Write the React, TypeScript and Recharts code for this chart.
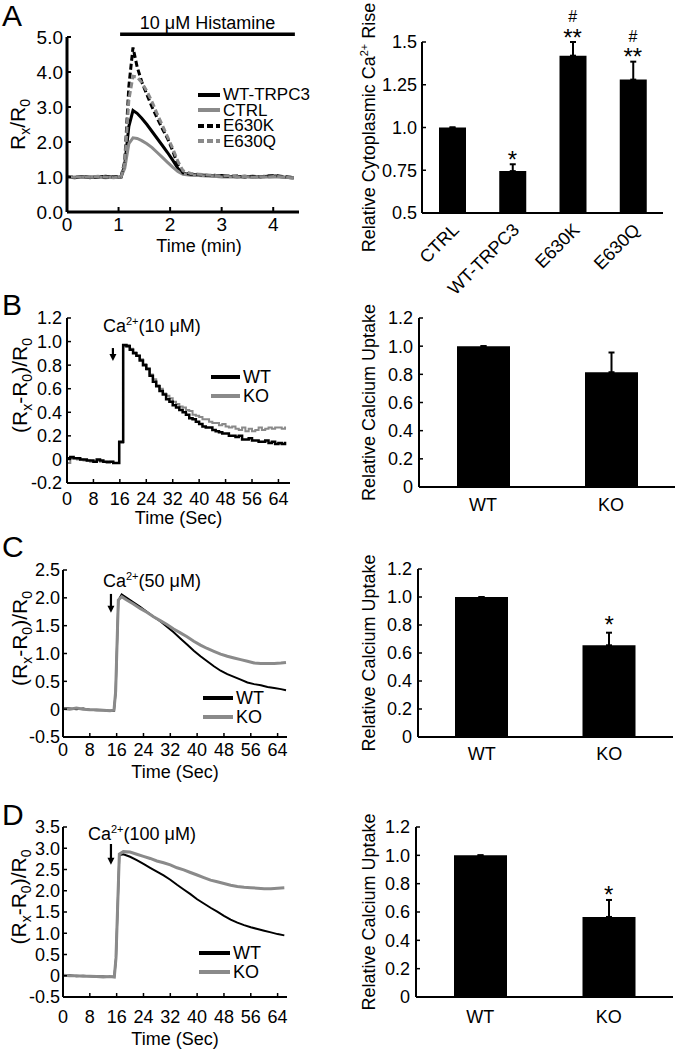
import React from 'react';
import {
  ComposedChart,
  LineChart,
  Line,
  Bar,
  XAxis,
  YAxis,
  ErrorBar,
  ReferenceLine,
  Legend,
  LabelList,
} from 'recharts';

const FONT = '"Liberation Sans", Arial, Helvetica, sans-serif';
const GRAY = '#8a8a8a';

// ---- A (left): histamine response, Rx/R0 vs time (min)
const histTime = [0, 0.15, 0.3, 0.45, 0.6, 0.75, 0.9, 1.05, 1.12, 1.2, 1.28, 1.36, 1.45, 1.55, 1.65, 1.75, 1.85, 1.95, 2.05, 2.15, 2.25, 2.4, 2.55, 2.7, 2.85, 3.0, 3.15, 3.3, 3.45, 3.6, 3.75, 3.9, 4.05, 4.2, 4.35, 4.4];
const histWT = [1.0, 0.98, 1.01, 0.99, 1.0, 1.02, 0.99, 1.0, 1.35, 2.45, 2.9, 2.82, 2.68, 2.5, 2.3, 2.1, 1.9, 1.7, 1.48, 1.25, 1.1, 1.07, 1.06, 1.05, 1.03, 1.04, 1.02, 1.01, 1.02, 1.0, 1.01, 1.02, 1.03, 1.0, 0.98, 0.97];
const histCTRL = [0.99, 1.0, 0.99, 1.01, 1.0, 0.98, 1.0, 1.01, 1.25, 1.95, 2.12, 2.1, 2.04, 1.95, 1.84, 1.7, 1.56, 1.42, 1.28, 1.16, 1.08, 1.05, 1.04, 1.03, 1.02, 1.0, 1.01, 0.99, 1.0, 1.01, 0.99, 1.0, 1.01, 0.99, 0.98, 0.97];
const histE630K = [1.0, 0.99, 1.02, 0.98, 1.01, 0.99, 1.0, 1.01, 1.45, 3.6, 4.7, 4.15, 3.72, 3.35, 3.0, 2.68, 2.38, 2.1, 1.75, 1.35, 1.12, 1.08, 1.07, 1.04, 1.05, 1.03, 1.02, 1.03, 1.0, 1.02, 1.01, 1.03, 1.04, 1.01, 0.99, 0.98];
const histE630Q = [0.98, 1.01, 1.0, 0.99, 1.02, 1.0, 0.98, 1.0, 1.4, 3.2, 3.88, 3.86, 3.7, 3.45, 3.15, 2.8, 2.48, 2.15, 1.82, 1.45, 1.18, 1.1, 1.08, 1.06, 1.04, 1.03, 1.04, 1.01, 1.02, 0.99, 1.01, 1.0, 1.02, 1.0, 0.98, 0.97];
const histStart = 1.03;
const histEnd = 4.42;
const histLevel = 5.08;

// ---- A (right): relative cytoplasmic Ca2+ rise
const riseGroups = ['CTRL', 'WT-TRPC3', 'E630K', 'E630Q'];
const riseMean = [1.0, 0.745, 1.42, 1.28];
const riseErr = [0, 0.04, 0.08, 0.105];
const riseStars = ['', '*', '**', '**'];
const riseHash = ['', '', '#', '#'];
const riseTicks = [0.5, 0.75, 1.0, 1.25, 1.5];
const riseSepTicks = [1, 2, 3];

// ---- B: 10 uM Ca2+
const b10Time = [0, 1, 2, 3, 4, 5, 6, 7, 8, 9, 10, 11, 12, 13, 14, 15, 15.8, 17, 18, 19, 20, 21, 22, 23, 24, 25, 26, 27, 28, 29, 30, 31, 32, 33, 34, 35, 36, 37, 38, 39, 40, 41, 42, 43, 44, 45, 46, 47, 48, 49, 50, 51, 52, 53, 54, 55, 56, 57, 58, 59, 60, 61, 62, 63, 64, 65, 66];
const b10WT = [0.01, 0.02, 0.01, 0.01, 0.0, 0.0, -0.01, -0.01, -0.02, 0.0, -0.01, -0.02, -0.02, -0.02, -0.03, -0.03, 0.15,
  0.97, 0.96, 0.93, 0.9, 0.88, 0.84, 0.8, 0.77, 0.71, 0.66, 0.62, 0.58, 0.55, 0.51, 0.49, 0.46, 0.44, 0.42, 0.4, 0.38,
  0.35, 0.34, 0.32, 0.3, 0.28, 0.27, 0.27, 0.25, 0.24, 0.23, 0.22, 0.22, 0.2, 0.2, 0.19, 0.2, 0.17, 0.17, 0.18, 0.16,
  0.16, 0.15, 0.15, 0.16, 0.14, 0.15, 0.13, 0.14, 0.13, 0.15];
const b10KO = [-0.03, 0.01, 0.01, 0.0, 0.0, -0.01, -0.01, -0.02, -0.02, -0.01, -0.02, -0.02, -0.03, -0.02, -0.03, -0.03, 0.14,
  0.96, 0.97, 0.94, 0.91, 0.88, 0.85, 0.81, 0.76, 0.72, 0.68, 0.63, 0.6, 0.56, 0.54, 0.52, 0.49, 0.47, 0.45, 0.44, 0.42,
  0.41, 0.38, 0.37, 0.36, 0.34, 0.34, 0.32, 0.31, 0.31, 0.29, 0.3, 0.28, 0.27, 0.28, 0.26, 0.25, 0.27, 0.24, 0.26, 0.24,
  0.25, 0.27, 0.25, 0.26, 0.27, 0.26, 0.27, 0.27, 0.26, 0.28];
const b10Mean = [1.0, 0.815];
const b10Err = [0, 0.14];
const b10Stars = ['', ''];

// ---- C: 50 uM Ca2+
const c50Time = [0, 2, 4, 6, 8, 10, 12, 14, 15.2, 15.7, 16.5, 17.5, 19, 21, 23, 25, 27, 29, 31, 33, 35, 37, 39, 41, 43, 45, 47, 49, 51, 53, 55, 57, 59, 61, 63, 65, 66.5];
const c50WT = [0.02, 0.01, 0.0, 0.01, -0.01, -0.02, -0.02, -0.03, -0.03, 0.3, 1.95, 2.06,
  2.0, 1.92, 1.84, 1.75, 1.66, 1.58, 1.48, 1.38, 1.27, 1.16, 1.05, 0.95, 0.86, 0.77, 0.69, 0.63, 0.58, 0.53, 0.48, 0.45,
  0.43, 0.4, 0.38, 0.36, 0.34];
const c50KO = [0.01, 0.0, 0.02, 0.0, -0.01, -0.01, -0.02, -0.03, -0.02, 0.32, 1.96, 2.02,
  1.96, 1.89, 1.81, 1.74, 1.66, 1.59, 1.52, 1.44, 1.37, 1.3, 1.22, 1.15, 1.09, 1.04, 0.99, 0.95, 0.92, 0.89, 0.86, 0.83,
  0.82, 0.82, 0.82, 0.83, 0.84];
const c50Mean = [1.0, 0.655];
const c50Err = [0, 0.09];
const c50Stars = ['', '*'];

// ---- D: 100 uM Ca2+
const d100Time = [0, 2, 4, 6, 8, 10, 12, 14, 15.3, 15.8, 16.8, 18, 20, 22, 24, 26, 28, 30, 32, 34, 36, 38, 40, 42, 44, 46, 48, 50, 52, 54, 56, 58, 60, 62, 64, 66];
const d100WT = [0.0, 0.01, -0.01, 0.0, -0.01, -0.02, -0.02, -0.03, -0.02, 0.4, 2.84, 2.86,
  2.8, 2.72, 2.63, 2.54, 2.45, 2.36, 2.26, 2.14, 2.03, 1.92, 1.8, 1.7, 1.6, 1.51, 1.41, 1.32, 1.25, 1.19, 1.14, 1.1,
  1.06, 1.02, 0.98, 0.95];
const d100KO = [0.01, 0.0, 0.0, -0.01, -0.01, -0.02, -0.03, -0.02, -0.03, 0.42, 2.86, 2.92,
  2.91, 2.86, 2.81, 2.76, 2.7, 2.66, 2.61, 2.54, 2.49, 2.43, 2.37, 2.31, 2.25, 2.21, 2.17, 2.13, 2.1, 2.08, 2.07, 2.06,
  2.05, 2.05, 2.06, 2.07];
const d100Mean = [1.0, 0.565];
const d100Err = [0, 0.12];
const d100Stars = ['', '*'];

const uptakeGroups = ['WT', 'KO'];
const uptakeTicks = [0, 0.2, 0.4, 0.6, 0.8, 1.0, 1.2];
const uptakeSepTicks = [1];
const secTicks = [0, 8, 16, 24, 32, 40, 48, 56, 64];

const histRows = histTime.map((t, i) => ({
  t, wt: histWT[i], ctrl: histCTRL[i], k: histE630K[i], q: histE630Q[i],
}));
const riseRows = riseGroups.map((name, i) => ({
  name, mean: riseMean[i], err: [0, riseErr[i]], top: riseMean[i] + riseErr[i],
  star: riseStars[i], hash: riseHash[i],
}));
const traceRows = (time: number[], wt: number[], ko: number[]) =>
  time.map((t, i) => ({ t, wt: wt[i], ko: ko[i] }));
const uptakeRows = (mean: number[], err: number[], stars: string[]) =>
  uptakeGroups.map((name, i) => ({
    name, mean: mean[i], err: [0, err[i]], top: mean[i] + err[i], star: stars[i],
  }));

const tickStyle = { fontSize: 18, fill: '#000', fontFamily: FONT };
const fmt1 = (v: number) => (v === 0 ? '0' : v.toFixed(1));

const xTitle = (text: string, dy: number, dx = 0) => (props: any) => {
  const vb = props.viewBox;
  return (
    <text x={vb.x + vb.width / 2 + dx} y={vb.y + dy} textAnchor="middle"
      fontSize={18} fontFamily={FONT} fill="#000">{text}</text>
  );
};

const yTitle = (x: number, shift: number, fontSize: number, body: React.ReactNode) => (props: any) => {
  const vb = props.viewBox;
  const y = vb.y + vb.height / 2 + shift;
  return (
    <text x={x} y={y} transform={`rotate(-90, ${x}, ${y})`} textAnchor="middle"
      fontSize={fontSize} fontFamily={FONT} fill="#000">{body}</text>
  );
};

const Sub = ({ c }: { c: string }) => (
  <>
    <tspan dy={5} fontSize={14}>{c}</tspan>
    <tspan dy={-5}>{'\u200b'}</tspan>
  </>
);

const ratioBody = (
  <>
    <tspan>(R</tspan><Sub c="x" /><tspan>-R</tspan><Sub c="0" /><tspan>)/R</tspan><Sub c="0" />
  </>
);

const legendBox = (order: string[], sw: number, rowH: number, thick: number, size: number) => (props: any) => {
  const items = [...(props.payload || [])].sort(
    (a: any, b: any) => order.indexOf(a.value) - order.indexOf(b.value),
  );
  return (
    <div style={{ fontFamily: FONT, fontSize: size, color: '#000' }}>
      {items.map((it: any) => (
        <div key={it.value} style={{ display: 'flex', alignItems: 'center', height: rowH, whiteSpace: 'nowrap' }}>
          <svg width={sw} height={8} style={{ marginRight: 3, display: 'block' }}>
            <line x1={0} y1={4} x2={sw} y2={4} stroke={it.color} strokeWidth={thick}
              strokeDasharray={it.payload?.strokeDasharray} />
          </svg>
          <span style={{ lineHeight: `${rowH}px` }}>{it.value}</span>
        </div>
      ))}
    </div>
  );
};

const arrowShape = (p: any) => {
  const { x1, y1, x2, y2 } = p;
  const head = 7;
  return (
    <g>
      <line x1={x1} y1={y1} x2={x2} y2={y2 - head + 1} stroke="#000" strokeWidth={2.2} />
      <polygon points={`${x2 - 3.5},${y2 - head} ${x2 + 3.5},${y2 - head} ${x2},${y2}`} fill="#000" />
    </g>
  );
};

const doseLabel = (dose: string, dx: number, dy: number) => (props: any) => {
  const vb = props.viewBox;
  return (
    <text x={vb.x + dx} y={vb.y + dy} fontSize={18} fontFamily={FONT} fill="#000">
      <tspan>Ca</tspan>
      <tspan dy={-7} fontSize={11}>2+</tspan>
      <tspan dy={7}>({dose})</tspan>
    </text>
  );
};

const markLabel = (dy: number, size: number) => (props: any) => {
  const { x, y, value } = props;
  if (!value) return null;
  return (
    <text x={x} y={y + dy} textAnchor="middle" fontSize={size} fontFamily={FONT} fill="#000">{value}</text>
  );
};

const SlantTick = (props: any) => {
  const { x, y, payload } = props;
  const ax = x + 8;
  const ay = y + 18;
  return (
    <text x={ax} y={ay} transform={`rotate(-45, ${ax}, ${ay})`} textAnchor="end"
      fontSize={18} fontFamily={FONT} fill="#000">{payload.value}</text>
  );
};

// small inward ticks on the category axis, between the bars
const sepAxis = (n: number, ticks: number[]) => (
  <XAxis xAxisId="sep" type="number" domain={[0, n]} ticks={ticks} interval={0} height={0}
    axisLine={false} tick={false} tickLine={{ stroke: '#000', strokeWidth: 1.5 }} tickSize={-5} />
);

const HistPanel = () => (
  <div style={{ position: 'absolute', left: 0, top: 0 }}>
    <LineChart width={330} height={262} data={histRows} margin={{ top: 37, right: 31, bottom: 6, left: 0 }}>
      <XAxis dataKey="t" type="number" domain={[0, 4.5]} ticks={[0, 1, 2, 3, 4]} interval={0} height={44}
        axisLine={{ stroke: '#000', strokeWidth: 3 }} tickLine={{ stroke: '#000', strokeWidth: 2 }}
        tickSize={-5} tickMargin={11} tick={{ ...tickStyle, fontSize: 19 }} label={xTitle('Time (min)', 40, 16)} />
      <YAxis type="number" domain={[0, 5]} ticks={[0, 1, 2, 3, 4, 5]} interval={0} width={67}
        axisLine={{ stroke: '#000', strokeWidth: 3 }} tickLine={{ stroke: '#000', strokeWidth: 2 }}
        tickSize={-4} tickMargin={8} tick={{ ...tickStyle, fontSize: 19 }} tickFormatter={(v: number) => v.toFixed(1)}
        label={yTitle(25, 0, 21, <><tspan>R</tspan><Sub c="x" /><tspan>/R</tspan><Sub c="0" /></>)} />
      <ReferenceLine segment={[{ x: histStart, y: histLevel }, { x: histEnd, y: histLevel }]}
        stroke="#000" strokeWidth={3.5} ifOverflow="visible"
        label={(p: any) => (
          <text x={p.viewBox.x + p.viewBox.width / 2} y={p.viewBox.y - 5} textAnchor="middle"
            fontSize={18} fontFamily={FONT} fill="#000">10 μM Histamine</text>
        )} />
      <Line dataKey="wt" name="WT-TRPC3" stroke="#000" strokeWidth={3} dot={false} isAnimationActive={false} />
      <Line dataKey="ctrl" name="CTRL" stroke={GRAY} strokeWidth={3} dot={false} isAnimationActive={false} />
      <Line dataKey="k" name="E630K" stroke="#000" strokeWidth={3} strokeDasharray="6 3" dot={false} isAnimationActive={false} />
      <Line dataKey="q" name="E630Q" stroke={GRAY} strokeWidth={3} strokeDasharray="6 3" dot={false} isAnimationActive={false} />
      <Legend layout="vertical" align="center" verticalAlign="middle"
        wrapperStyle={{ left: 198, top: 87, width: 'auto' }}
        content={legendBox(['WT-TRPC3', 'CTRL', 'E630K', 'E630Q'], 22, 15.5, 4, 17)} />
    </LineChart>
  </div>
);

const RisePanel = () => (
  <div style={{ position: 'absolute', left: 330, top: 0 }}>
    <ComposedChart width={350} height={300} data={riseRows} margin={{ top: 42, right: 17, bottom: 42, left: 0 }}>
      {sepAxis(riseGroups.length, riseSepTicks)}
      <XAxis dataKey="name" type="category" height={45} interval={0}
        axisLine={{ stroke: '#000', strokeWidth: 2 }} tickLine={false} tickSize={0} tickMargin={0}
        tick={(p: any) => <SlantTick {...p} />} />
      <YAxis type="number" domain={[0.5, 1.5]} ticks={riseTicks} interval={0} width={92}
        axisLine={{ stroke: '#000', strokeWidth: 2 }} tickLine={{ stroke: '#000', strokeWidth: 1.5 }}
        tickSize={-4} tickMargin={9} tick={tickStyle}
        tickFormatter={(v: number) => (v === 0.75 || v === 1.25 ? v.toFixed(2) : v.toFixed(1))}
        label={yTitle(45, 0, 18, (
          <>
            <tspan>Relative Cytoplasmic Ca</tspan>
            <tspan dy={-7} fontSize={11}>2+</tspan>
            <tspan dy={7}> Rise</tspan>
          </>
        ))} />
      <Bar dataKey="mean" fill="#000" barSize={27} isAnimationActive={false}>
        <ErrorBar dataKey="err" direction="y" width={3} stroke="#000" strokeWidth={2} />
      </Bar>
      <Line dataKey="top" stroke="none" dot={false} activeDot={false} legendType="none" isAnimationActive={false}>
        <LabelList dataKey="star" content={markLabel(3.5, 24)} />
        <LabelList dataKey="hash" content={markLabel(-20, 16)} />
      </Line>
    </ComposedChart>
  </div>
);

type TraceCfg = {
  top: number; height: number; rows: { t: number; wt: number; ko: number }[];
  yDomain: [number, number]; yTicks: number[]; xMax: number;
  axisW: number; plotTop: number; plotBottom: number; plotRight: number;
  xAxisH: number; xTickMargin: number; yTickMargin: number; xTitleDy: number; yTitleX: number;
  arrow: { x: number; from: number; to: number; dx: number; dy: number; dose: string };
  legend: { left: number; top: number; sw: number };
  stepped: boolean; wtOnTop: boolean; wtWidth: number; koWidth: number;
};

const TracePanel = ({ c }: { c: TraceCfg }) => {
  const type = c.stepped ? 'stepAfter' : 'linear';
  const wt = (
    <Line key="wt" dataKey="wt" name="WT" type={type} stroke="#000" strokeWidth={c.wtWidth}
      dot={false} isAnimationActive={false} />
  );
  const ko = (
    <Line key="ko" dataKey="ko" name="KO" type={type} stroke={GRAY} strokeWidth={c.koWidth}
      dot={false} isAnimationActive={false} />
  );
  return (
    <div style={{ position: 'absolute', left: 0, top: c.top }}>
      <LineChart width={330} height={c.height} data={c.rows}
        margin={{ top: c.plotTop - c.top, right: 330 - c.plotRight, bottom: c.top + c.height - c.plotBottom - c.xAxisH, left: 0 }}>
        <XAxis dataKey="t" type="number" domain={[0, c.xMax]} ticks={secTicks} interval={0} height={c.xAxisH}
          axisLine={{ stroke: '#000', strokeWidth: 2 }} tickLine={{ stroke: '#000', strokeWidth: 1.5 }}
          tickSize={-4} tickMargin={c.xTickMargin} tick={tickStyle} label={xTitle('Time (Sec)', c.xTitleDy)} />
        <YAxis type="number" domain={c.yDomain} ticks={c.yTicks} interval={0} width={c.axisW}
          axisLine={{ stroke: '#000', strokeWidth: 2 }} tickLine={{ stroke: '#000', strokeWidth: 1.5 }}
          tickSize={-4} tickMargin={c.yTickMargin} tick={tickStyle} tickFormatter={fmt1}
          label={yTitle(c.yTitleX, -15, 21, ratioBody)} />
        <ReferenceLine segment={[{ x: c.arrow.x, y: c.arrow.from }, { x: c.arrow.x, y: c.arrow.to }]}
          ifOverflow="visible" shape={arrowShape}
          label={doseLabel(c.arrow.dose, c.arrow.dx, c.arrow.dy)} />
        {c.wtOnTop ? [ko, wt] : [wt, ko]}
        <Legend layout="vertical" align="center" verticalAlign="middle"
          wrapperStyle={{ left: c.legend.left, top: c.legend.top, width: 'auto' }}
          content={legendBox(['WT', 'KO'], c.legend.sw, 19, 4, 18)} />
      </LineChart>
    </div>
  );
};

type UptakeCfg = {
  top: number; height: number; rows: any[];
  plotLeft: number; plotTop: number; plotBottom: number; plotRight: number;
  xAxisH: number; xTickMargin: number; starDy: number;
};

const UptakePanel = ({ c }: { c: UptakeCfg }) => (
  <div style={{ position: 'absolute', left: 330, top: c.top }}>
    <ComposedChart width={350} height={c.height} data={c.rows}
      margin={{ top: c.plotTop - c.top, right: 680 - c.plotRight, bottom: c.top + c.height - c.plotBottom - c.xAxisH, left: 0 }}>
      {sepAxis(uptakeGroups.length, uptakeSepTicks)}
      <XAxis dataKey="name" type="category" height={c.xAxisH} interval={0}
        axisLine={{ stroke: '#000', strokeWidth: 2 }} tickLine={false} tickSize={0} tickMargin={c.xTickMargin}
        tick={tickStyle} />
      <YAxis type="number" domain={[0, 1.2]} ticks={uptakeTicks} interval={0} width={c.plotLeft - 330}
        axisLine={{ stroke: '#000', strokeWidth: 2 }} tickLine={{ stroke: '#000', strokeWidth: 1.5 }}
        tickSize={-4} tickMargin={10} tick={tickStyle} tickFormatter={fmt1}
        label={yTitle(45, 0, 18, 'Relative Calcium Uptake')} />
      <Bar dataKey="mean" fill="#000" barSize={53} isAnimationActive={false}>
        <ErrorBar dataKey="err" direction="y" width={3} stroke="#000" strokeWidth={2} />
      </Bar>
      <Line dataKey="top" stroke="none" dot={false} activeDot={false} legendType="none" isAnimationActive={false}>
        <LabelList dataKey="star" content={markLabel(c.starDy, 24)} />
      </Line>
    </ComposedChart>
  </div>
);

const panelB: TraceCfg = {
  top: 262, height: 268, rows: traceRows(b10Time, b10WT, b10KO),
  yDomain: [-0.2, 1.2], yTicks: [-0.2, 0, 0.2, 0.4, 0.6, 0.8, 1.0, 1.2], xMax: 67.5,
  axisW: 67, plotTop: 318, plotBottom: 483, plotRight: 290,
  xAxisH: 46, xTickMargin: 13, yTickMargin: 9, xTitleDy: 41, yTitleX: 27,
  arrow: { x: 13.9, from: 0.945, to: 0.835, dx: -10, dy: -16, dose: '10 μM' },
  legend: { left: 211, top: 105.5, sw: 29 },
  stepped: true, wtOnTop: true, wtWidth: 2.5, koWidth: 2,
};

const panelC: TraceCfg = {
  top: 530, height: 262, rows: traceRows(c50Time, c50WT, c50KO),
  yDomain: [-0.5, 2.5], yTicks: [-0.5, 0, 0.5, 1.0, 1.5, 2.0, 2.5], xMax: 66.8,
  axisW: 63, plotTop: 570, plotBottom: 737, plotRight: 287,
  xAxisH: 50, xTickMargin: 10, yTickMargin: 7, xTitleDy: 41, yTitleX: 27,
  arrow: { x: 14.3, from: 2.07, to: 1.73, dx: -8, dy: -7, dose: '50 μM' },
  legend: { left: 203, top: 158.5, sw: 30 },
  stepped: false, wtOnTop: false, wtWidth: 2, koWidth: 3,
};

const panelD: TraceCfg = {
  top: 792, height: 257, rows: traceRows(d100Time, d100WT, d100KO),
  yDomain: [-0.5, 3.5], yTicks: [-0.5, 0, 0.5, 1.0, 1.5, 2.0, 2.5, 3.0, 3.5], xMax: 66.8,
  axisW: 63, plotTop: 827, plotBottom: 997, plotRight: 287,
  xAxisH: 50, xTickMargin: 17, yTickMargin: 7, xTitleDy: 48, yTitleX: 26,
  arrow: { x: 14.3, from: 3.1, to: 2.61, dx: -23, dy: -4, dose: '100 μM' },
  legend: { left: 199, top: 151.5, sw: 31 },
  stepped: false, wtOnTop: false, wtWidth: 2, koWidth: 3,
};

const uptakeB: UptakeCfg = {
  top: 262, height: 268, rows: uptakeRows(b10Mean, b10Err, b10Stars),
  plotLeft: 419, plotTop: 318, plotBottom: 487, plotRight: 675, xAxisH: 36, xTickMargin: 11, starDy: 3.5,
};
const uptakeC: UptakeCfg = {
  top: 530, height: 262, rows: uptakeRows(c50Mean, c50Err, c50Stars),
  plotLeft: 418, plotTop: 569, plotBottom: 737, plotRight: 673, xAxisH: 36, xTickMargin: 10, starDy: 0,
};
const uptakeD: UptakeCfg = {
  top: 792, height: 257, rows: uptakeRows(d100Mean, d100Err, d100Stars),
  plotLeft: 416, plotTop: 827, plotBottom: 997, plotRight: 673, xAxisH: 36, xTickMargin: 13, starDy: 3.5,
};

const panelLetters = [
  { t: 'A', y: 26 },
  { t: 'B', y: 315 },
  { t: 'C', y: 557 },
  { t: 'D', y: 825 },
];

export default function App() {
  return (
    <div style={{ position: 'absolute', left: 0, top: 0, width: 680, height: 1049, background: '#fff', overflow: 'hidden' }}>
      <HistPanel />
      <TracePanel c={panelB} />
      <UptakePanel c={uptakeB} />
      <RisePanel />
      <TracePanel c={panelC} />
      <UptakePanel c={uptakeC} />
      <TracePanel c={panelD} />
      <UptakePanel c={uptakeD} />
      <svg width={680} height={1049} style={{ position: 'absolute', left: 0, top: 0, pointerEvents: 'none' }}>
        {panelLetters.map((p) => (
          <text key={p.t} x={2} y={p.y} fontSize={30} fontFamily={FONT} fill="#000">{p.t}</text>
        ))}
      </svg>
    </div>
  );
}
